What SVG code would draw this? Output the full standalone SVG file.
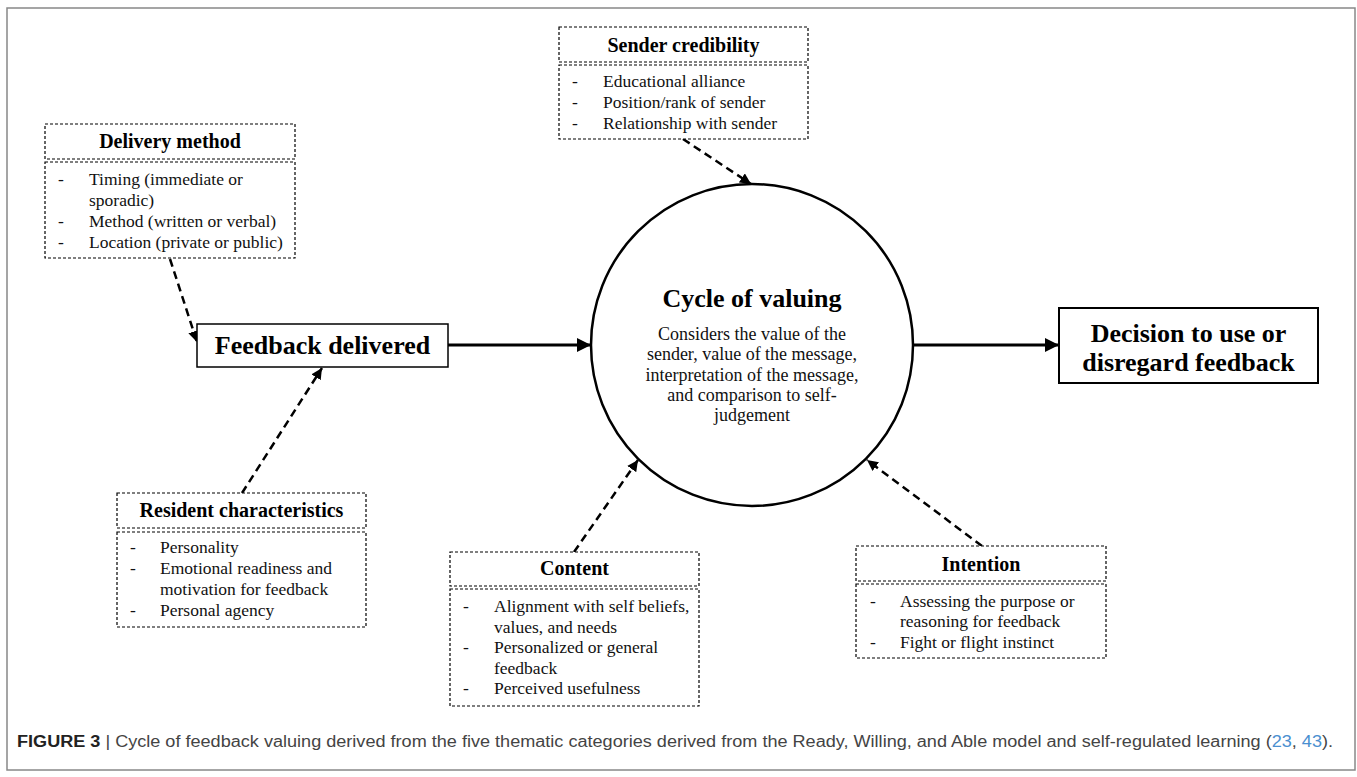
<svg xmlns="http://www.w3.org/2000/svg" width="1357" height="777" viewBox="0 0 1357 777">
<defs>
<style>
.box{fill:#fff;stroke:#000;stroke-width:1.2;stroke-dasharray:3 2}
.ttl{font-family:"Liberation Serif","Times New Roman",serif;font-weight:bold;font-size:20px;text-anchor:middle;fill:#000}
.bd{font-family:"Liberation Serif","Times New Roman",serif;font-size:17.5px;fill:#111}
.big{font-family:"Liberation Serif","Times New Roman",serif;font-weight:bold;font-size:26px;text-anchor:middle;fill:#000}
.cb{font-family:"Liberation Serif","Times New Roman",serif;font-size:18px;text-anchor:middle;fill:#111}
.dash{stroke:#000;stroke-width:2.5;stroke-dasharray:8 5;fill:none}
.solid{stroke:#000;stroke-width:3;fill:none}
</style>
<marker id="ah" viewBox="0 0 10 10" refX="10" refY="5" markerWidth="11" markerHeight="11" markerUnits="userSpaceOnUse" orient="auto">
<path d="M0,0 L10,5 L0,10 z" fill="#000"/>
</marker>
<marker id="ahs" viewBox="0 0 10 10" refX="10" refY="5" markerWidth="14" markerHeight="14" markerUnits="userSpaceOnUse" orient="auto">
<path d="M0,0 L10,5 L0,10 z" fill="#000"/>
</marker>
</defs>
<rect x="0" y="0" width="1357" height="777" fill="#fff"/>
<rect id="frame" x="7" y="8" width="1348" height="762" fill="none" stroke="#888" stroke-width="1.5"/>

<g id="connectors">
<line class="dash" x1="170" y1="259" x2="197" y2="342" marker-end="url(#ah)"/>
<line class="dash" x1="683" y1="139" x2="751" y2="184" marker-end="url(#ah)"/>
<line class="dash" x1="242" y1="493" x2="322" y2="368" marker-end="url(#ah)"/>
<line class="dash" x1="574" y1="552" x2="638" y2="460" marker-end="url(#ah)"/>
<line class="dash" x1="982" y1="546" x2="867" y2="460" marker-end="url(#ah)"/>
<line class="solid" x1="448" y1="345" x2="591" y2="345" marker-end="url(#ahs)"/>
<line class="solid" x1="913" y1="345" x2="1059" y2="345" marker-end="url(#ahs)"/>
</g>

<g id="delivery-method">
<rect class="box" x="45" y="124" width="250" height="35"/>
<rect class="box" x="45" y="162" width="250" height="96"/>
<text class="ttl" x="170" y="148">Delivery method</text>
<text class="bd" x="58" y="185">-</text><text class="bd" x="89" y="185">Timing (immediate or</text>
<text class="bd" x="89" y="206">sporadic)</text>
<text class="bd" x="58" y="227">-</text><text class="bd" x="89" y="227">Method (written or verbal)</text>
<text class="bd" x="58" y="248">-</text><text class="bd" x="89" y="248">Location (private or public)</text>
</g>

<g id="sender-credibility">
<rect class="box" x="559" y="27" width="249" height="35"/>
<rect class="box" x="559" y="65" width="249" height="74"/>
<text class="ttl" x="683.5" y="52">Sender credibility</text>
<text class="bd" x="572" y="87">-</text><text class="bd" x="603" y="87">Educational alliance</text>
<text class="bd" x="572" y="108">-</text><text class="bd" x="603" y="108">Position/rank of sender</text>
<text class="bd" x="572" y="129">-</text><text class="bd" x="603" y="129">Relationship with sender</text>
</g>

<g id="feedback-delivered">
<rect x="197" y="324" width="251" height="43" fill="#fff" stroke="#000" stroke-width="1.5"/>
<text class="big" x="322.5" y="354">Feedback delivered</text>
</g>

<g id="cycle-of-valuing">
<circle cx="752" cy="345" r="161" fill="#fff" stroke="#000" stroke-width="2.5"/>
<text class="big" x="752" y="307">Cycle of valuing</text>
<text class="cb" x="752" y="340">Considers the value of the</text>
<text class="cb" x="752" y="360">sender, value of the message,</text>
<text class="cb" x="752" y="381">interpretation of the message,</text>
<text class="cb" x="752" y="401">and comparison to self-</text>
<text class="cb" x="752" y="421">judgement</text>
</g>

<g id="decision">
<rect x="1059" y="308" width="259" height="75" fill="#fff" stroke="#000" stroke-width="2"/>
<text class="big" x="1188.5" y="342">Decision to use or</text>
<text class="big" x="1188.5" y="371">disregard feedback</text>
</g>

<g id="resident-characteristics">
<rect class="box" x="117" y="493" width="249" height="35"/>
<rect class="box" x="117" y="532" width="249" height="95"/>
<text class="ttl" x="241.5" y="517">Resident characteristics</text>
<text class="bd" x="130" y="553">-</text><text class="bd" x="160" y="553">Personality</text>
<text class="bd" x="130" y="574">-</text><text class="bd" x="160" y="574">Emotional readiness and</text>
<text class="bd" x="160" y="595">motivation for feedback</text>
<text class="bd" x="130" y="616">-</text><text class="bd" x="160" y="616">Personal agency</text>
</g>

<g id="content">
<rect class="box" x="450" y="552" width="249" height="34"/>
<rect class="box" x="450" y="589" width="249" height="117"/>
<text class="ttl" x="574.5" y="575">Content</text>
<text class="bd" x="463" y="612">-</text><text class="bd" x="494" y="612">Alignment with self beliefs,</text>
<text class="bd" x="494" y="633">values, and needs</text>
<text class="bd" x="463" y="653">-</text><text class="bd" x="494" y="653">Personalized or general</text>
<text class="bd" x="494" y="674">feedback</text>
<text class="bd" x="463" y="694">-</text><text class="bd" x="494" y="694">Perceived usefulness</text>
</g>

<g id="intention">
<rect class="box" x="856" y="546" width="250" height="35"/>
<rect class="box" x="856" y="584" width="250" height="74"/>
<text class="ttl" x="981" y="571">Intention</text>
<text class="bd" x="870" y="607">-</text><text class="bd" x="900" y="607">Assessing the purpose or</text>
<text class="bd" x="900" y="627">reasoning for feedback</text>
<text class="bd" x="870" y="648">-</text><text class="bd" x="900" y="648">Fight or flight instinct</text>
</g>

<text id="caption" x="17" y="747" textLength="1316" lengthAdjust="spacingAndGlyphs" font-family="'Liberation Sans',Arial,sans-serif" font-size="16" fill="#444"><tspan font-weight="bold" fill="#222">FIGURE 3</tspan> | Cycle of feedback valuing derived from the five thematic categories derived from the Ready, Willing, and Able model and self-regulated learning (<tspan fill="#4a8fd0">23</tspan>, <tspan fill="#4a8fd0">43</tspan>).</text>
</svg>
